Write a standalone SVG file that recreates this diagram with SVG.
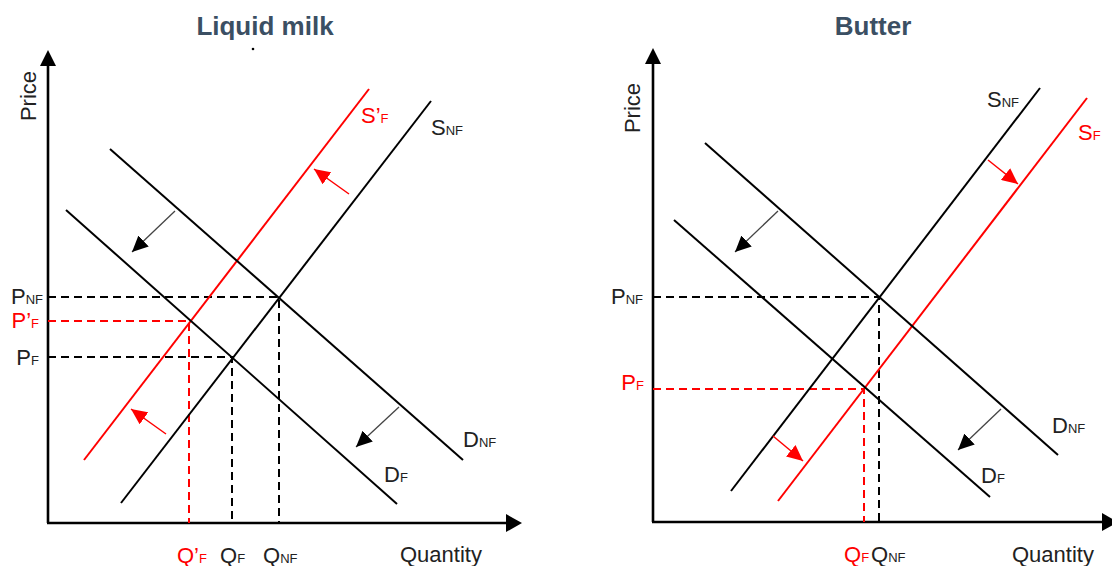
<svg xmlns="http://www.w3.org/2000/svg" width="1112" height="566" viewBox="0 0 1112 566">
<defs>
<style>
text{font-family:"Liberation Sans",Arial,sans-serif;fill:#222;font-size:22px}
.red{fill:#ff0000}
.title{font-size:26px;font-weight:bold;fill:#3b4f63}
.sub{font-size:13px}
.axis{stroke:#000;stroke-width:2.6;fill:none}
.crv{stroke:#000;stroke-width:2;fill:none}
.crvr{stroke:#ff0000;stroke-width:2;fill:none}
.dash{stroke:#000;stroke-width:2;stroke-dasharray:8,5;fill:none}
.dashr{stroke:#ff0000;stroke-width:2;stroke-dasharray:8,5;fill:none}
.sh{stroke:#444;stroke-width:1.3;fill:none;marker-end:url(#ab)}
.shr{stroke:#ff0000;stroke-width:1.5;fill:none;marker-end:url(#ar)}
</style>
<marker id="ab" markerUnits="userSpaceOnUse" markerWidth="17" markerHeight="15" refX="16" refY="7.5" orient="auto"><path d="M0,0 L16,7.5 L0,15 z" fill="#000"/></marker>
<marker id="ar" markerUnits="userSpaceOnUse" markerWidth="17" markerHeight="15" refX="16" refY="7.5" orient="auto"><path d="M0,0 L16,7.5 L0,15 z" fill="#ff0000"/></marker>
</defs>
<g id="left-chart">
<text class="title" x="265" y="35" text-anchor="middle">Liquid milk</text>
<circle cx="253" cy="49" r="1.3" fill="#000"/>
<g id="left-axes">
<line class="axis" x1="48" y1="523" x2="48" y2="64"/>
<polygon points="48,50 40,66 56,66" fill="#000"/>
<line class="axis" x1="47" y1="523" x2="508" y2="523"/>
<polygon points="522,523 506,514 506,532" fill="#000"/>
<text transform="translate(36,96) rotate(-90)" text-anchor="middle">Price</text>
<text x="400" y="562">Quantity</text>
</g>
<g id="left-guides">
<polyline class="dash" points="48,297 279,297 279,523"/>
<polyline class="dashr" points="48,321 189,321 189,523"/>
<polyline class="dash" points="48,357 232,357 232,523"/>
</g>
<g id="left-curves">
<line id="l-snf" class="crv" x1="121" y1="503" x2="431" y2="101"/>
<line id="l-sfp" class="crvr" x1="84" y1="460" x2="369" y2="89"/>
<line id="l-dnf" class="crv" x1="110" y1="149" x2="463" y2="460"/>
<line id="l-df" class="crv" x1="66" y1="210" x2="397" y2="504"/>
</g>
<g id="left-shifts">
<line class="sh" x1="175" y1="211" x2="132" y2="252"/>
<line class="sh" x1="399" y1="407" x2="356" y2="447"/>
<line class="shr" x1="349" y1="194" x2="314" y2="169"/>
<line class="shr" x1="166" y1="434" x2="131" y2="409"/>
</g>
<g id="left-labels">
<text class="red" x="361" y="123">S’<tspan class="sub">F</tspan></text>
<text x="431" y="135">S<tspan class="sub">NF</tspan></text>
<text x="463" y="447">D<tspan class="sub">NF</tspan></text>
<text x="384" y="482">D<tspan class="sub">F</tspan></text>
<text x="43" y="304" text-anchor="end">P<tspan class="sub">NF</tspan></text>
<text class="red" x="39" y="328" text-anchor="end">P’<tspan class="sub">F</tspan></text>
<text x="39" y="365" text-anchor="end">P<tspan class="sub">F</tspan></text>
<text class="red" x="177" y="563">Q’<tspan class="sub">F</tspan></text>
<text x="220" y="563">Q<tspan class="sub">F</tspan></text>
<text x="263" y="563">Q<tspan class="sub">NF</tspan></text>
</g>
</g>
<g id="right-chart">
<text class="title" x="873" y="35" text-anchor="middle">Butter</text>
<g id="right-axes">
<line class="axis" x1="653" y1="522" x2="653" y2="62"/>
<polygon points="653,48 645,64 661,64" fill="#000"/>
<line class="axis" x1="652" y1="522" x2="1104" y2="522"/>
<polygon points="1118,522 1102,513 1102,531" fill="#000"/>
<text transform="translate(640,108) rotate(-90)" text-anchor="middle">Price</text>
<text x="1012" y="562">Quantity</text>
</g>
<g id="right-guides">
<polyline class="dash" points="653,297 879,297 879,522"/>
<polyline class="dashr" points="653,389 864,389 864,522"/>
</g>
<g id="right-curves">
<line id="r-snf" class="crv" x1="731" y1="491" x2="1040" y2="88"/>
<line id="r-sf" class="crvr" x1="778" y1="501" x2="1087" y2="98"/>
<line id="r-dnf" class="crv" x1="705" y1="143" x2="1058" y2="455"/>
<line id="r-df" class="crv" x1="674" y1="220" x2="990" y2="497"/>
</g>
<g id="right-shifts">
<line class="sh" x1="778" y1="211" x2="735" y2="252"/>
<line class="sh" x1="1001" y1="409" x2="958" y2="450"/>
<line class="shr" x1="988" y1="160" x2="1018" y2="184"/>
<line class="shr" x1="773" y1="436" x2="803" y2="461"/>
</g>
<g id="right-labels">
<text x="987" y="107">S<tspan class="sub">NF</tspan></text>
<text class="red" x="1078" y="140">S<tspan class="sub">F</tspan></text>
<text x="1052" y="433">D<tspan class="sub">NF</tspan></text>
<text x="981" y="483">D<tspan class="sub">F</tspan></text>
<text x="643" y="304" text-anchor="end">P<tspan class="sub">NF</tspan></text>
<text class="red" x="644" y="390" text-anchor="end">P<tspan class="sub">F</tspan></text>
<text class="red" x="844" y="562">Q<tspan class="sub">F</tspan></text>
<text x="871" y="562">Q<tspan class="sub">NF</tspan></text>
</g>
</g>
</svg>
